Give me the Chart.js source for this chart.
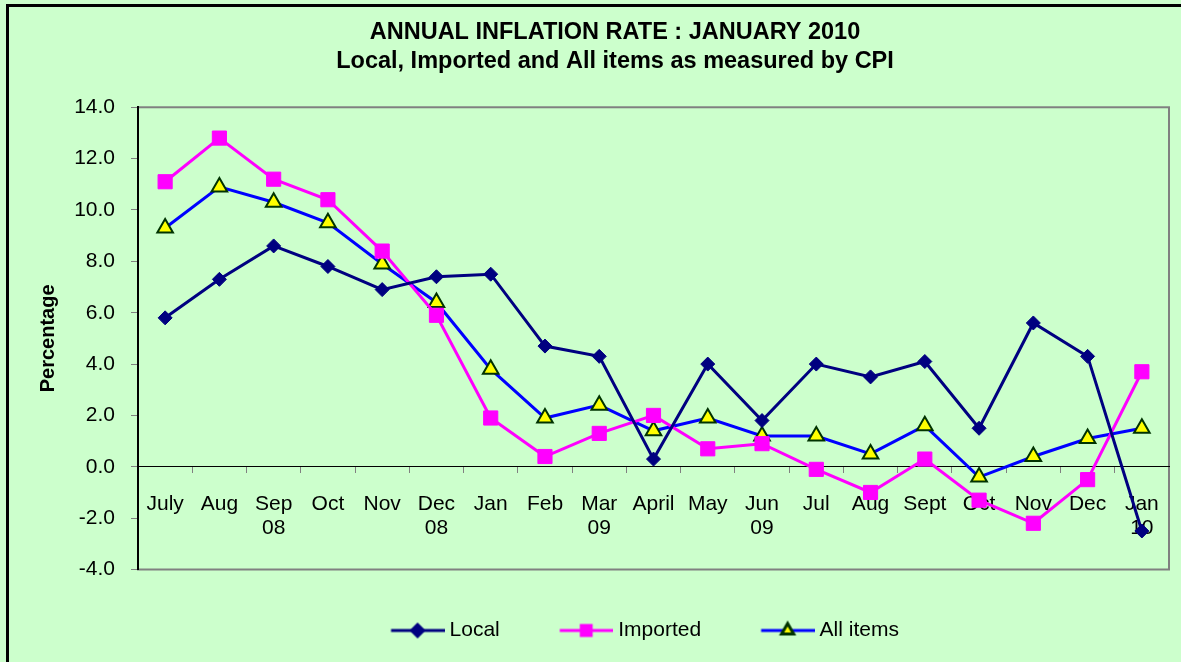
<!DOCTYPE html>
<html>
<head>
<meta charset="utf-8">
<script src="https://cdn.jsdelivr.net/npm/chart.js@4/dist/chart.umd.min.js"></script>
<style>
  html, body { margin: 0; padding: 0; background: #CCFFCC; }
  #wrap { width: 1181px; height: 662px; }
</style>
</head>
<body>
<div id="wrap"><canvas id="c" width="1181" height="662"></canvas></div>
<script>
const months = ["July", "Aug", ["Sep", "08"], "Oct", "Nov", ["Dec", "08"], "Jan", "Feb", ["Mar", "09"], "April",
  "May", ["Jun", "09"], "Jul", "Aug", "Sept", "Oct", "Nov", "Dec", ["Jan", "10"]];
const local = [5.8, 7.3, 8.6, 7.8, 6.9, 7.4, 7.5, 4.7, 4.3, 0.3, 4.0, 1.8, 4.0, 3.5, 4.1, 1.5, 5.6, 4.3, -2.5];
const imported = [11.1, 12.8, 11.2, 10.4, 8.4, 5.9, 1.9, 0.4, 1.3, 2.0, 0.7, 0.9, -0.1, -1.0, 0.3, -1.3, -2.2, -0.5, 3.7];
const allItems = [9.3, 10.9, 10.3, 9.5, 7.9, 6.4, 3.8, 1.9, 2.4, 1.4, 1.9, 1.2, 1.2, 0.5, 1.6, -0.4, 0.4, 1.1, 1.5];
const yTicks = { min: -4, max: 14, step: 2 };

// little line+marker pictures for the legend (Excel style)
function legendIcon(line, style, radius, fill, stroke, bw){
  const cv = document.createElement("canvas");
  cv.width = 119; cv.height = 22;
  const g = cv.getContext("2d");
  g.strokeStyle = line; g.lineWidth = 3;
  g.beginPath(); g.moveTo(65.5, 11); g.lineTo(119, 11); g.stroke();
  g.fillStyle = fill; g.strokeStyle = stroke;
  Chart.helpers.drawPoint(g, { pointStyle: style, radius: radius, borderWidth: bw, rotation: 0 }, 92, 11);
  return cv;
}

const frame = {
  id: "frame",
  beforeDraw(chart){
    const ctx = chart.ctx;
    ctx.save();
    ctx.fillStyle = "#CCFFCC";
    ctx.fillRect(0, 0, chart.width, chart.height);
    ctx.strokeStyle = "#000"; ctx.lineWidth = 3;
    ctx.strokeRect(7.5, 5.5, chart.width + 20, chart.height + 20);
    const a = chart.chartArea;
    ctx.strokeStyle = "#808080"; ctx.lineWidth = 2;
    ctx.strokeRect(a.left, a.top, a.right - a.left, a.bottom - a.top);
    ctx.restore();
  }
};

const icons = [
  legendIcon("#000080", "rectRot", 6, "#000080", "#000080", 1),
  legendIcon("#FF00FF", "rect", 7, "#FF00FF", "#FF00FF", 1),
  legendIcon("#0000FF", "triangle", 7, "#FFFF00", "#003300", 1.5)
];

new Chart(document.getElementById("c").getContext("2d"), {
  type: "line",
  data: {
    labels: months,
    datasets: [
      { label: "Local", data: local, borderColor: "#000080", borderWidth: 3,
        pointStyle: "rectRot", pointRadius: 7, pointBackgroundColor: "#000080", pointBorderColor: "#000080", pointBorderWidth: 1 },
      { label: "Imported", data: imported, borderColor: "#FF00FF", borderWidth: 3,
        pointStyle: "rect", pointRadius: 10, pointBackgroundColor: "#FF00FF", pointBorderColor: "#FF00FF", pointBorderWidth: 1 },
      { label: "All items", data: allItems, borderColor: "#0000FF", borderWidth: 3,
        pointStyle: "triangle", pointRadius: 9, pointBackgroundColor: "#FFFF00", pointBorderColor: "#003300", pointBorderWidth: 2 }
    ]
  },
  options: {
    responsive: false,
    animation: false,
    clip: false,
    layout: { padding: { left: 61, right: 12, top: 0, bottom: 11 } },
    elements: { line: { tension: 0 } },
    scales: {
      x: {
        type: "category",
        position: { y: 0 },
        offset: true,
        grid: { drawOnChartArea: false, drawTicks: true, tickLength: 6, color: "#808080", offset: true },
        border: { color: "#000", width: 1 },
        ticks: { autoSkip: false, maxRotation: 0, padding: 19, color: "#000",
          font: { family: "Liberation Sans, Arial", size: 21, lineHeight: 1.15 } }
      },
      y: {
        min: yTicks.min, max: yTicks.max,
        afterFit(s){ s.width = 77; },
        grid: { drawOnChartArea: false, tickLength: 7, color: "#808080" },
        border: { color: "#000", width: 2 },
        ticks: { stepSize: yTicks.step, padding: 16, color: "#000",
          font: { family: "Liberation Sans, Arial", size: 21 },
          callback: v => v.toFixed(1) },
        title: { display: true, text: "Percentage", color: "#000", padding: { top: -25, bottom: 0 },
          font: { family: "Liberation Sans, Arial", size: 20, weight: "bold", lineHeight: 1.2 } }
      }
    },
    plugins: {
      title: {
        display: true,
        text: ["ANNUAL INFLATION RATE : JANUARY 2010", "Local, Imported and All items as measured by CPI"],
        color: "#000",
        font: { family: "Liberation Sans, Arial", size: 23.5, weight: "bold", lineHeight: 1.24 },
        padding: { top: 18, bottom: 31 }
      },
      legend: {
        position: "bottom",
        title: { display: true, text: " ", padding: { top: 40.5, bottom: 0 }, font: { size: 10, lineHeight: 1 } },
        labels: {
          usePointStyle: true,
          pointStyleWidth: 108,
          padding: 0,
          color: "#000",
          font: { family: "Liberation Sans, Arial", size: 21 },
          generateLabels: chart => chart.data.datasets.map((d, i) => ({
            text: d.label, pointStyle: icons[i], fillStyle: "rgba(0,0,0,0)", strokeStyle: "rgba(0,0,0,0)",
            lineWidth: 0, fontColor: "#000", hidden: false, datasetIndex: i
          }))
        }
      },
      tooltip: { enabled: false }
    }
  },
  plugins: [frame]
});
</script>
</body>
</html>
